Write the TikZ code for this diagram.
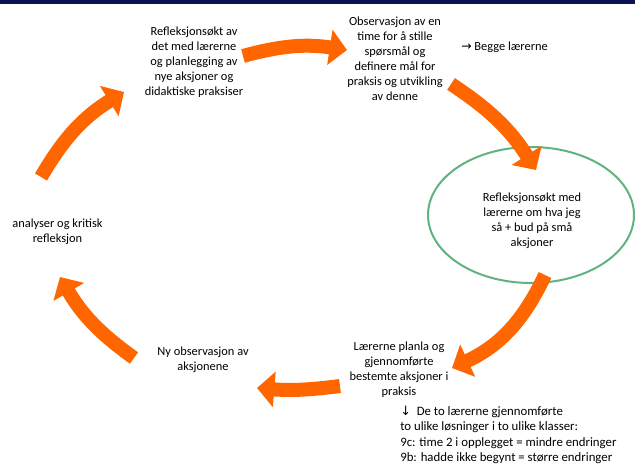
\documentclass[tikz,border=0pt]{standalone}
\usepackage{fontspec}
\setmainfont{Carlito}
\newfontfamily\symbolfont{DejaVu Sans}
\usetikzlibrary{arrows.meta}
\definecolor{cycle}{RGB}{255,102,0}
\definecolor{focus}{RGB}{96,178,128}
\definecolor{banner}{RGB}{12,20,80}
\tikzstyle{stage}=[align=center, inner sep=0pt, font=\fontsize{9.3}{11.3}\selectfont]
\tikzstyle{note}=[align=left, inner sep=0pt, font=\fontsize{9.6}{11.5}\selectfont]
\tikzset{cyclearrow/.style={line width=10.5pt, color=cycle, -{Triangle[length=13pt,width=26pt]}}}

\begin{document}
\begin{tikzpicture}[x=0.75pt,y=0.75pt]
  \useasboundingbox (0,0) rectangle (635,469);
  \fill[banner] (0,465) rectangle (635,469);

  \draw (194,407) node[stage] (S1) {Refleksjonsøkt av\\det med lærerne\\og planlegging av\\nye aksjoner og\\didaktiske praksiser};
  \draw (395,410) node[stage] (S2) {Observasjon av en\\time for å stille\\spørsmål og\\definere mål for\\praksis og utvikling\\av denne};
  \draw (461,422) node[stage,anchor=west] (B) {{\symbolfont →} Begge lærerne};
  \draw[focus,line width=1.5pt] (531,254) ellipse [x radius=103, y radius=68];
  \draw (532,248) node[stage] (S3) {Refleksjonsøkt med\\lærerne om hva jeg\\så + bud på små\\aksjoner};
  \draw (399,99) node[stage] (S4) {Lærerne planla og\\gjennomførte\\bestemte aksjoner i\\praksis};
  \draw (203,109) node[stage] (S5) {Ny observasjon av\\aksjonene};
  \draw (57.5,237) node[stage] (S6) {analyser og kritisk\\refleksjon};
  \draw (400,34) node[note,anchor=west] (N) {{\symbolfont ↓}\ \ De to lærerne gjennomførte\\to ulike løsninger i to ulike klasser:\\9c: time 2 i opplegget = mindre endringer\\9b: hadde ikke begynt = større endringer};

  %% cycle arrows
  \coordinate (A1s) at (243,413); \coordinate (A1e) at (347,419);
  \coordinate (A2s) at (451,385); \coordinate (A2e) at (536,299);
  \coordinate (A3s) at (545,194); \coordinate (A3e) at (452,101);
  \coordinate (A4s) at (340,83);  \coordinate (A4e) at (257,81);
  \coordinate (A5s) at (134,111); \coordinate (A5e) at (60,192);
  \coordinate (A6s) at (41,292);  \coordinate (A6e) at (124,377);

  \draw[cyclearrow] (A1s) to[bend left=12] (A1e);
  \draw[cyclearrow] (A2s) to[bend left=12] (A2e);
  \draw[cyclearrow] (A3s) to[bend left=20] (A3e);
  \draw[cyclearrow] (A4s) to[bend left=6] (A4e);
  \draw[cyclearrow] (A5s) to[bend left=12] (A5e);
  \draw[cyclearrow] (A6s) to[bend left=14] (A6e);
\end{tikzpicture}
\end{document}
